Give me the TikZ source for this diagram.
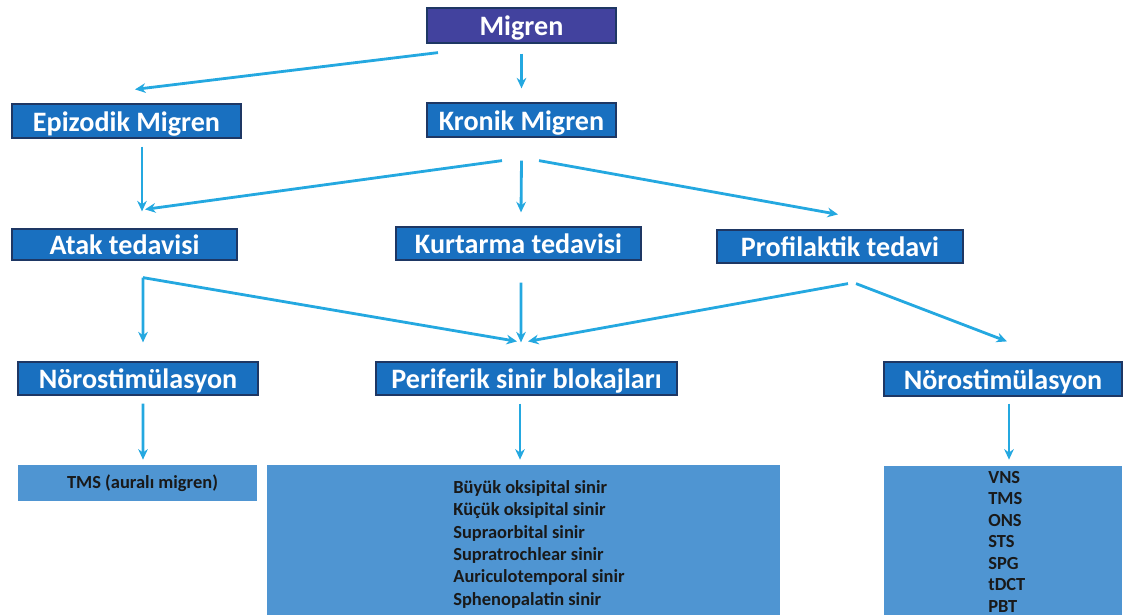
\documentclass[tikz,border=0pt]{standalone}
\usepackage{fontspec}
\setmainfont{Carlito}
\usetikzlibrary{arrows.meta, positioning, calc}

\definecolor{migblue}{RGB}{66,66,158}
\definecolor{boxblue}{RGB}{25,112,192}
\definecolor{boxline}{RGB}{30,55,100}
\definecolor{listblue}{RGB}{79,149,210}
\definecolor{arrblue}{RGB}{36,168,224}

\tikzset{
  hdr/.style 2 args={draw=boxline, line width=0.7pt, fill=boxblue, text=white,
    inner sep=0pt, minimum width=#1*0.02cm, minimum height=#2*0.02cm,
    text height=11.8pt, text depth=0pt,
    font=\bfseries\fontsize{16}{18}\selectfont},
  lst/.style 2 args={fill=listblue, inner sep=0pt, text=black!90,
    minimum width=#1*0.02cm, minimum height=#2*0.02cm,
    font=\bfseries\fontsize{10.5}{12.75}\selectfont},
  lsttxt/.style={inner sep=0pt, anchor=north west, align=left, text=black!90},
  arr/.style={-{Stealth[length=6pt,width=5.5pt]}, arrblue, line width=1.6pt}
}

\begin{document}
\begin{tikzpicture}[x=0.02cm, y=-0.02cm]
  \useasboundingbox (0,0) rectangle (1125,615);

  % Draw boxes
  \node[hdr={189}{35}, fill=migblue] (migren) at (521.5,25.5) {Migren};
  \node[hdr={229}{34}] (epizodik) at (126.5,121) {Epizodik Migren};
  \node[hdr={189}{34}] (kronik) at (521.5,120) {Kronik Migren};
  \node[hdr={225}{31}] (atak) at (124.5,244.5) {Atak tedavisi};
  \node[hdr={245}{33}] (kurtarma) at (518.5,243.5) {Kurtarma tedavisi};
  \node[hdr={246}{33}] (profil) at (840,246.5) {Profilaktik tedavi};
  \node[hdr={240}{33}] (noroL) at (138,378.5) {Nörostimülasyon};
  \node[hdr={301}{33}] (periferik) at (526.5,378.5) {Periferik sinir blokajları};
  \node[hdr={238}{34}] (noroR) at (1003,379) {Nörostimülasyon};

  % List boxes
  \node[lst={239}{36}] (tms) at (137.5,483) {\hspace*{0.2cm}TMS (auralı migren)};
  \node[lst={513}{150}] (perlist) at (523.5,540) {};
  \node[lst={238}{149}] (norlist) at (1003,540.5) {};
  \node[lsttxt, font=\bfseries\fontsize{10.5}{12.75}\selectfont] (pertxt) at (453,480)
    {Büyük oksipital sinir\\Küçük oksipital sinir\\Supraorbital sinir\\
     Supratrochlear sinir\\Auriculotemporal sinir\\Sphenopalatin sinir};
  \node[lsttxt, font=\bfseries\fontsize{10.5}{12.2}\selectfont] (nortxt) at (988,471)
    {VNS\\TMS\\ONS\\STS\\SPG\\tDCT\\PBT};

  % Arrows
  \draw[arr] ([shift={(-83.5,9)}]migren.south) -- ([shift={(8.5,-14)}]epizodik.north);
  \draw[arr] ([shift={(0,10)}]migren.south) -- ([shift={(0,-14)}]kronik.north);
  \draw[arr] ([shift={(15.5,8)}]epizodik.south) -- ([shift={(17.5,-17)}]atak.north);
  \draw[arr] ([shift={(-19.5,23)}]kronik.south) -- ([shift={(20.5,-19)}]atak.north);
  \draw[arr] ([shift={(0,23)}]kronik.south) -- ([shift={(2.5,-14)}]kurtarma.north);
  \draw[arr] ([shift={(17.5,23)}]kronik.south) -- ([shift={(-2,-15)}]profil.north);

  \coordinate (atakfork) at ([shift={(18.5,17)}]atak.south);
  \draw[arr] (atakfork) -- ([shift={(5,-19)}]noroL.north);
  \draw[arr] (atakfork) -- ([shift={(-9.5,-20)}]periferik.north);
  \draw[arr] ([shift={(2.5,22)}]kurtarma.south) -- ([shift={(-5.5,-19)}]periferik.north);
  \draw[arr] ([shift={(8,20)}]profil.south) -- ([shift={(1.5,-20)}]periferik.north);
  \draw[arr] ([shift={(16,20)}]profil.south) -- ([shift={(4,-20)}]noroR.north);

  \draw[arr] ([shift={(5,8)}]noroL.south) -- ([shift={(5.5,-5)}]tms.north);
  \draw[arr] ([shift={(-6.5,8)}]periferik.south) -- ([shift={(-3.5,-5)}]perlist.north);
  \draw[arr] ([shift={(6,7)}]noroR.south) -- ([shift={(6,-6)}]norlist.north);
\end{tikzpicture}
\end{document}
